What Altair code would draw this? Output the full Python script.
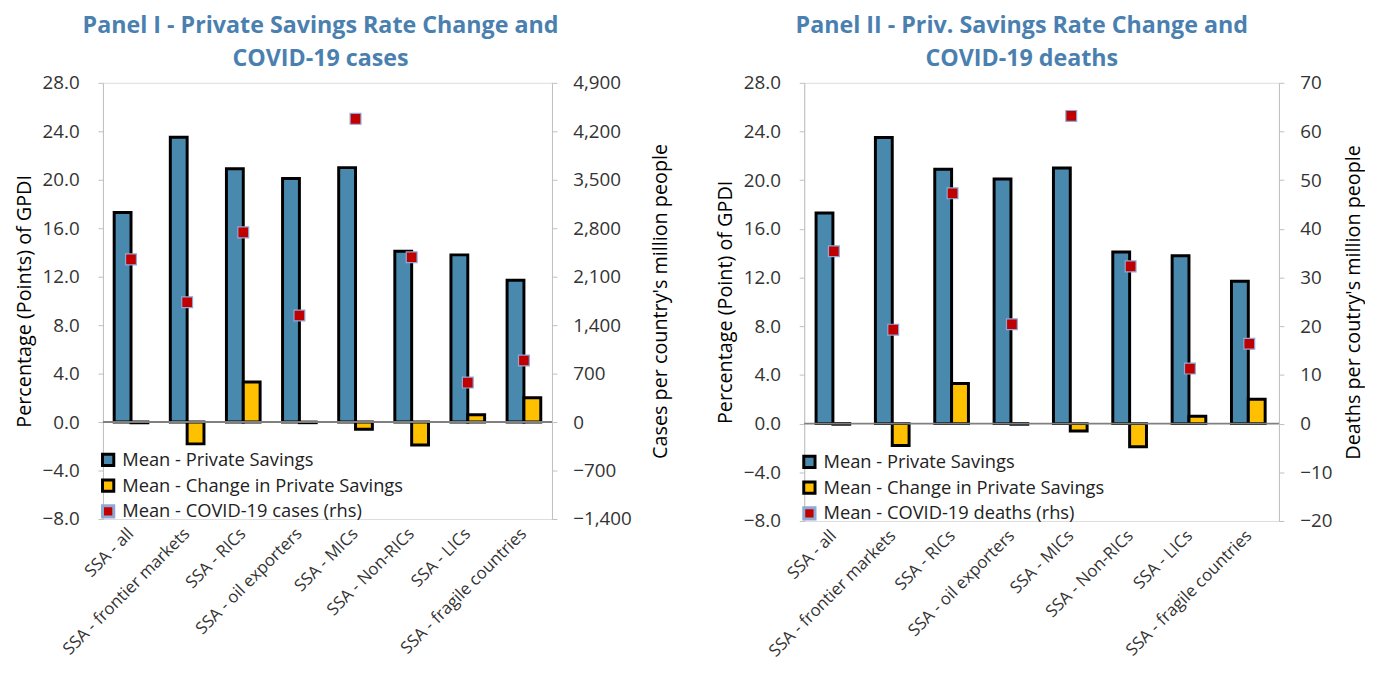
import altair as alt
import pandas as pd

categories = ["SSA - all", "SSA - frontier markets", "SSA - RICs", "SSA - oil exporters",
              "SSA - MICs", "SSA - Non-RICs", "SSA - LICs", "SSA - fragile countries"]
priv_savings = [17.3, 23.5, 20.9, 20.1, 21.0, 14.1, 13.8, 11.7]
change_priv = [-0.05, -1.8, 3.3, -0.05, -0.6, -1.9, 0.6, 2.0]
cases = [2350, 1730, 2740, 1540, 4380, 2380, 570, 890]
deaths = [35.4, 19.3, 47.3, 20.4, 63.2, 32.3, 11.3, 16.4]

left_ticks = [-8, -4, 0, 4, 8, 12, 16, 20, 24, 28]
cases_ticks = [-1400, -700, 0, 700, 1400, 2100, 2800, 3500, 4200, 4900]
deaths_ticks = [-20, -10, 0, 10, 20, 30, 40, 50, 60, 70]

S1 = "Mean - Private Savings"
S2 = "Mean - Change in Private Savings"

FONT = "Open Sans"
BLUE = "#4a89ae"
YELLOW = "#ffc000"
RED = "#c00000"
TITLE_C = "#4a80b0"


def make_legend():
    return alt.Legend(title=None, orient="bottom-left", offset=-4,
                      labelFontSize=18.5, labelFont=FONT, labelColor="#222", labelLimit=500,
                      symbolType="square", symbolSize=130, symbolStrokeWidth=3,
                      rowPadding=2, labelOffset=5)


def panel(title, rhs_vals, rhs_name, y_title, rhs_title, rhs_ticks, rhs_fmt, w, h, rtp, tdx):
    bar_df = pd.DataFrame({
        "category": categories * 2,
        "series": [S1] * len(categories) + [S2] * len(categories),
        "value": priv_savings + change_priv,
    })
    pt_df = pd.DataFrame({"category": categories, "series": [rhs_name] * len(categories), "rhs": rhs_vals})
    zero_df = pd.DataFrame({"value": [0]})
    dom = [S1, S2, rhs_name]
    color = alt.Color("series:N", scale=alt.Scale(domain=dom, range=[BLUE, YELLOW, RED]),
                      legend=make_legend())
    stroke = alt.Stroke("series:N", scale=alt.Scale(domain=dom, range=["black", "black", "#8fa9d6"]),
                        legend=make_legend())
    xaxis = alt.Axis(labelAngle=-45, labelAlign="right", labelBaseline="middle",
                     labelFontSize=17, labelFont=FONT, labelColor="#333",
                     domain=False, ticks=False, labelPadding=12, labelLimit=300)
    xscale = alt.Scale(paddingInner=0.4, paddingOuter=0.2)
    xenc = alt.X("category:N", sort=categories, title=None, scale=xscale, axis=xaxis)
    yscale = alt.Scale(domain=[-8, 28], nice=False, zero=False)
    yaxis = alt.Axis(values=left_ticks, format=".1f", title=y_title, titleFontSize=20,
                     titleFont=FONT, titleFontWeight="normal", titleColor="black",
                     labelFontSize=19, labelFont=FONT, labelColor="#333",
                     domainColor="#bfbfbf", tickColor="#bfbfbf", tickSize=5, grid=False,
                     labelPadding=19, titlePadding=8)
    bars = alt.Chart(bar_df).mark_bar(strokeWidth=3).encode(
        x=xenc,
        xOffset=alt.XOffset("series:N", sort=[S1, S2], scale=alt.Scale(paddingInner=0, paddingOuter=0)),
        y=alt.Y("value:Q", scale=yscale, axis=yaxis),
        color=color,
        stroke=stroke,
    )
    zero = alt.Chart(zero_df).mark_rule(color="#808080", strokeWidth=2).encode(
        y=alt.Y("value:Q", scale=yscale, axis=yaxis))
    rhs_scale = alt.Scale(domain=[rhs_ticks[0], rhs_ticks[-1]], nice=False, zero=False)
    pts = alt.Chart(pt_df).mark_point(shape="square", filled=True, size=120, strokeWidth=1.2, opacity=1).encode(
        x=xenc,
        y=alt.Y("rhs:Q", scale=rhs_scale,
                axis=alt.Axis(orient="right", values=rhs_ticks, format=rhs_fmt, title=rhs_title,
                              titleFontSize=20, titleFont=FONT, titleFontWeight="normal",
                              titleColor="black", titleAngle=270, titleBaseline="bottom",
                              labelFontSize=19, labelFont=FONT,
                              labelColor="#333", domainColor="#bfbfbf", tickColor="#bfbfbf",
                              tickSize=5, grid=False, labelPadding=16, titlePadding=rtp)),
        color=color,
        stroke=stroke,
    )
    return alt.layer(alt.layer(bars, zero), pts).resolve_scale(y="independent").properties(
        width=w, height=h,
        title=alt.TitleParams(title, fontSize=23.5, font=FONT, fontWeight="bold", color=TITLE_C,
                              anchor="middle", offset=4, lineHeight=33, dx=tdx))


p1 = panel(["Panel I - Private Savings Rate Change and", "COVID-19  cases"], cases,
           "Mean - COVID-19 cases (rhs)", "Percentage  (Points) of GPDI",
           "Cases per country's million people", cases_ticks, ",.0f", 454, 441, 40, -7)
p2 = panel(["Panel II - Priv. Savings Rate Change and", "COVID-19  deaths"], deaths,
           "Mean - COVID-19 deaths (rhs)", "Percentage  (Point) of GPDI",
           "Deaths per coutry's million people", deaths_ticks, ".0f", 480, 443, 32, -20)

chart = alt.hconcat(p1, p2, spacing=43).resolve_scale(
    color="independent", stroke="independent", x="independent", y="independent"
).resolve_legend(color="independent", stroke="independent").properties(
    padding={"top": 2, "left": 5, "right": 0, "bottom": 5}
).configure_view(stroke=None).configure(background="white")

chart.save("out.html", embed_options={"renderer": "svg", "actions": False})
